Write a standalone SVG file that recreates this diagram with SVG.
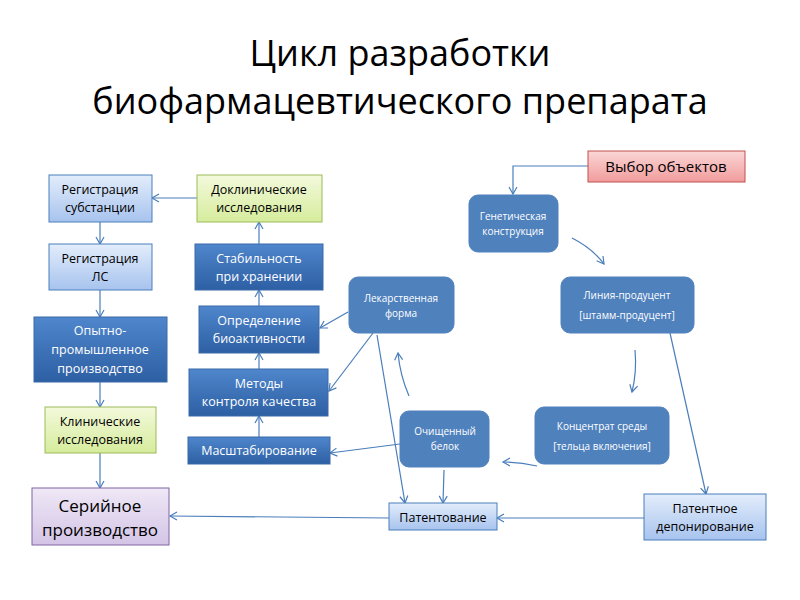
<svg xmlns="http://www.w3.org/2000/svg" width="800" height="600" viewBox="0 0 800 600">
<defs>
<linearGradient id="gL" x1="0" y1="0" x2="0" y2="1"><stop offset="0" stop-color="#e3edfb"/><stop offset="1" stop-color="#a7c3ee"/></linearGradient>
<linearGradient id="gD" x1="0" y1="0" x2="0" y2="1"><stop offset="0" stop-color="#4f86cc"/><stop offset="1" stop-color="#2d5fa3"/></linearGradient>
<linearGradient id="gG" x1="0" y1="0" x2="0" y2="1"><stop offset="0" stop-color="#f3f9dc"/><stop offset="1" stop-color="#d6ec9c"/></linearGradient>
<linearGradient id="gP" x1="0" y1="0" x2="0" y2="1"><stop offset="0" stop-color="#efe8f6"/><stop offset="1" stop-color="#d3c4e6"/></linearGradient>
<linearGradient id="gR" x1="0" y1="0" x2="0" y2="1"><stop offset="0" stop-color="#fbd6d6"/><stop offset="1" stop-color="#f19c9c"/></linearGradient>
<marker id="a" markerWidth="10" markerHeight="10" refX="8" refY="5" orient="auto" markerUnits="userSpaceOnUse"><path d="M1,1 L8,5 L1,9" fill="none" stroke="#4a7ebb" stroke-width="1.2"/></marker>
</defs>
<style>
text{font-family:"Open Sans","DejaVu Sans",sans-serif;text-anchor:middle}
.t{font-size:36px;fill:#000}
.l{fill:url(#gL);stroke:#4a7ebb}
.d{fill:url(#gD);stroke:#3a6aa8}
.g{fill:url(#gG);stroke:#9bbb59}
.p{fill:url(#gP);stroke:#8064a2}
.r{fill:url(#gR);stroke:#c0504d}
.rb{fill:#4f81bd;stroke:#4f81bd}
.k{font-size:12.5px;fill:#000}
.w{font-size:12.5px;fill:#fff}
.s{font-size:10px;fill:#fff}
#conn path{fill:none;stroke:#4a7ebb;stroke-width:1.2;marker-end:url(#a)}
</style>
<text class="t" x="400" y="66">Цикл разработки</text>
<text class="t" x="400" y="114">биофармацевтического препарата</text>
<g id="conn">
<path d="M588,166 H513 V194"/>
<path d="M572,238 Q592,248 604,264"/>
<path d="M635,350 Q637,372 632,392"/>
<path d="M537,466 Q520,462 503,462"/>
<path d="M409,396 Q400,375 398,353"/>
<path d="M348,312 L320,328"/>
<path d="M373,333 L329,391"/>
<path d="M377,335 L405,503"/>
<path d="M400,444 L330,453"/>
<path d="M444,470 L443,503"/>
<path d="M670,333 L706,494"/>
<path d="M644,518 L497,518"/>
<path d="M389,518 L170,516"/>
<path d="M259,437 V416"/>
<path d="M259,369 V353"/>
<path d="M259,306 V290"/>
<path d="M259,244 V222"/>
<path d="M197,198 H152"/>
<path d="M100,222 V244"/>
<path d="M100,290 V317"/>
<path d="M100,382 V407"/>
<path d="M100,453 V488"/>
</g>
<g id="reg-subst"><rect class="l" x="49" y="175" width="103" height="47"/><text class="k" x="100" y="194">Регистрация</text><text class="k" x="100" y="212">субстанции</text></g>
<g id="doklin"><rect class="g" x="197" y="175" width="125" height="47"/><text class="k" x="259" y="194">Доклинические</text><text class="k" x="259" y="212">исследования</text></g>
<g id="reg-ls"><rect class="l" x="49" y="244" width="103" height="46"/><text class="k" x="100" y="263">Регистрация</text><text class="k" x="100" y="281">ЛС</text></g>
<g id="opyt"><rect class="d" x="34" y="317" width="133" height="65"/><text class="w" x="100" y="335">Опытно-</text><text class="w" x="100" y="354">промышленное</text><text class="w" x="100" y="373">производство</text></g>
<g id="klin"><rect class="g" x="45" y="407" width="111" height="46"/><text class="k" x="100" y="426">Клинические</text><text class="k" x="100" y="444">исследования</text></g>
<g id="serial"><rect class="p" x="32" y="488" width="137" height="57"/><text class="k" style="font-size:17px" x="100" y="512">Серийное</text><text class="k" style="font-size:17px" x="100" y="536">производство</text></g>
<g id="stab"><rect class="d" x="195" y="244" width="128" height="46"/><text class="w" x="259" y="263">Стабильность</text><text class="w" x="259" y="281">при хранении</text></g>
<g id="opred"><rect class="d" x="199" y="306" width="120" height="47"/><text class="w" x="259" y="325">Определение</text><text class="w" x="259" y="343">биоактивности</text></g>
<g id="metody"><rect class="d" x="189" y="369" width="139" height="47"/><text class="w" x="259" y="388">Методы</text><text class="w" x="259" y="406">контроля качества</text></g>
<g id="masht"><rect class="d" x="188" y="437" width="142" height="27"/><text class="w" x="259" y="455">Масштабирование</text></g>
<g id="vybor"><rect class="r" x="588" y="151" width="157" height="31"/><text class="k" style="font-size:15px" x="666" y="172">Выбор объектов</text></g>
<g id="genet"><rect class="rb" x="469" y="195" width="89" height="57" rx="9"/><text class="s" x="513" y="220">Генетическая</text><text class="s" x="513" y="235">конструкция</text></g>
<g id="lek"><rect class="rb" x="349" y="277" width="105" height="56" rx="9"/><text class="s" x="401" y="302">Лекарственная</text><text class="s" x="401" y="317">форма</text></g>
<g id="liniya"><rect class="rb" x="561" y="277" width="133" height="56" rx="9"/><text class="s" x="627" y="299">Линия-продуцент</text><text class="s" x="627" y="319">[штамм-продуцент]</text></g>
<g id="ochish"><rect class="rb" x="400" y="411" width="89" height="56" rx="9"/><text class="s" x="445" y="435">Очищенный</text><text class="s" x="445" y="450">белок</text></g>
<g id="konc"><rect class="rb" x="535" y="407" width="134" height="57" rx="9"/><text class="s" x="602" y="430">Концентрат среды</text><text class="s" x="602" y="450">[тельца включения]</text></g>
<g id="patent"><rect class="l" x="389" y="503" width="108" height="27"/><text class="k" x="443" y="522">Патентование</text></g>
<g id="patdep"><rect class="l" x="644" y="494" width="122" height="46"/><text class="k" x="705" y="513">Патентное</text><text class="k" x="705" y="531">депонирование</text></g>
</svg>
